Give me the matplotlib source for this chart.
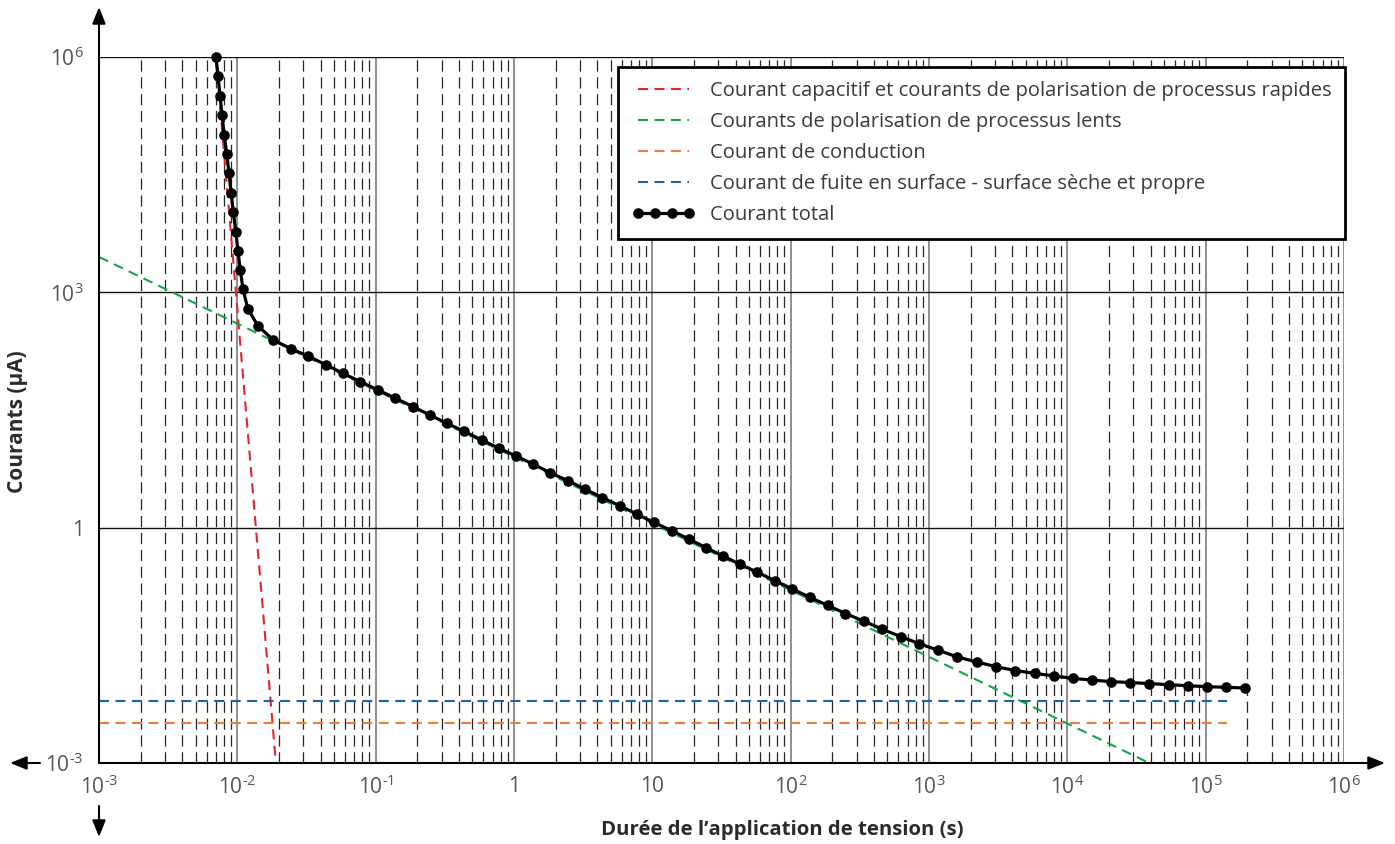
import matplotlib
matplotlib.use("Agg")
import matplotlib.pyplot as plt
from matplotlib.ticker import FixedLocator, NullLocator, LogLocator, FixedFormatter

plt.rcParams['font.family'] = ['Open Sans', 'DejaVu Sans']
plt.rcParams['mathtext.fontset'] = 'custom'
plt.rcParams['mathtext.rm'] = 'Open Sans'
plt.rcParams['mathtext.it'] = 'Open Sans:italic'
plt.rcParams['mathtext.bf'] = 'Open Sans:bold'

# ---------------- data ----------------
x_ticks = [1e-3, 1e-2, 1e-1, 1, 10, 1e2, 1e3, 1e4, 1e5, 1e6]
x_tick_labels = [r'$\mathregular{10^{\text{-}3}}$', r'$\mathregular{10^{\text{-}2}}$',
                 r'$\mathregular{10^{\text{-}1}}$',
                 '1', '10', r'$\mathregular{10^{2}}$', r'$\mathregular{10^{3}}$',
                 r'$\mathregular{10^{4}}$', r'$\mathregular{10^{5}}$', r'$\mathregular{10^{6}}$']
y_ticks = [1e-3, 1, 1e3, 1e6]
y_tick_labels = [r'$\mathregular{10^{\text{-}3}}$', '1', r'$\mathregular{10^{3}}$',
                 r'$\mathregular{10^{6}}$']

labels = ['Courant capacitif et courants de polarisation de processus rapides',
          'Courants de polarisation de processus lents',
          'Courant de conduction',
          'Courant de fuite en surface - surface sèche et propre',
          'Courant total']

capacitive_x = [0.0070, 0.0190]
capacitive_y = [1e6, 1e-3]

slow_x = [1e-3, 39100]
slow_y = [2825, 1e-3]

conduction_x = [1e-3, 1.43e5]
conduction_y = [0.00321, 0.00321]

leakage_x = [1e-3, 1.43e5]
leakage_y = [0.00617, 0.00617]

total_x = [0.00700, 0.00725, 0.00750, 0.00775, 0.00805, 0.00838, 0.00871, 0.00901, 0.00936, 0.00974,
           0.0101, 0.0105, 0.0110, 0.0119, 0.0141, 0.0182, 0.0246, 0.0326, 0.0438, 0.0578,
           0.0775, 0.104, 0.139, 0.186, 0.246, 0.327, 0.436, 0.583, 0.780, 1.03,
           1.37, 1.82, 2.45, 3.27, 4.36, 5.85, 7.73, 10.2, 13.8, 18.5,
           24.4, 32.3, 43.1, 57.5, 76.9, 103, 137, 185, 249, 340,
           461, 626, 849, 1170, 1600, 2210, 3050, 4200, 5790, 7950,
           10900, 15100, 20700, 28500, 39100, 53900, 74000, 102000, 141000, 193000]
total_y = [1.0e6, 5.74e5, 3.19e5, 1.81e5, 1.01e5, 5.76e4, 3.30e4, 1.87e4, 1.05e4, 5.94e3,
           3.40e3, 1.93e3, 1.09e3, 619, 373, 247, 190, 153, 119, 93.0,
           72.6, 56.9, 44.6, 34.9, 27.3, 21.4, 16.9, 13.1, 10.3, 8.20,
           6.49, 5.02, 3.97, 3.09, 2.41, 1.89, 1.49, 1.17, 0.915, 0.711,
           0.556, 0.436, 0.341, 0.270, 0.211, 0.165, 0.130, 0.102, 0.0805, 0.0640,
           0.0506, 0.0408, 0.0332, 0.0273, 0.0225, 0.0194, 0.0169, 0.0151, 0.0139, 0.0129,
           0.0120, 0.0114, 0.0109, 0.0106, 0.0103, 0.00996, 0.00967, 0.00939, 0.00923, 0.00904]

colors = ['#e3242b', '#14a54b', '#f37a3c', '#1c63a8', '#000000']

# ---------------- figure ----------------
W, H = 1395, 844
fig = plt.figure(figsize=(W / 100, H / 100), dpi=100)
L, R, T, B = 99, 1344, 57, 763
ax = fig.add_axes([L / W, 1 - B / H, (R - L) / W, (B - T) / H])
ax.set_xscale('log')
ax.set_yscale('log')
ax.set_xlim(1e-3, 1e6)
ax.set_ylim(1e-3, 1e6)

ax.xaxis.set_major_locator(FixedLocator(x_ticks))
ax.xaxis.set_major_formatter(FixedFormatter(x_tick_labels))
ax.xaxis.set_minor_locator(LogLocator(base=10, subs=range(2, 10), numticks=100))
ax.yaxis.set_major_locator(FixedLocator(y_ticks))
ax.yaxis.set_major_formatter(FixedFormatter(y_tick_labels))
ax.yaxis.set_minor_locator(NullLocator())

ax.tick_params(which='both', length=0)
ax.tick_params(axis='x', which='major', pad=9, labelsize=15, labelcolor='#555555')
ax.tick_params(axis='y', which='major', pad=11, labelsize=15, labelcolor='#555555')
ax.tick_params(axis='x', which='minor', labelbottom=False)

ax.grid(which='major', axis='x', color='#707070', lw=1.1, ls='-', zorder=0)
ax.grid(which='minor', axis='x', color='#262626', lw=0.9, ls=(0, (9, 4.5)), zorder=0)
ax.grid(which='major', axis='y', color='#111111', lw=1.0, ls='-', zorder=0)
ax.set_axisbelow(True)
for s in ax.spines.values():
    s.set_visible(False)

dash = (0, (4.8, 3.1))
ax.plot(capacitive_x, capacitive_y, color=colors[0], lw=1.5, ls=dash, label=labels[0], zorder=2)
ax.plot(slow_x, slow_y, color=colors[1], lw=1.5, ls=dash, label=labels[1], zorder=2)
ax.plot(conduction_x, conduction_y, color=colors[2], lw=1.5, ls=dash, label=labels[2], zorder=2)
ax.plot(leakage_x, leakage_y, color=colors[3], lw=1.5, ls=dash, label=labels[3], zorder=2)
ax.plot(total_x, total_y, color=colors[4], lw=2.3, marker='o', ms=6.6, label=labels[4],
        zorder=3, clip_on=False)

leg = ax.legend(loc='upper right', bbox_to_anchor=(1.0008, 0.9858), borderaxespad=0,
                frameon=True, fancybox=False, edgecolor='black', framealpha=1,
                fontsize=14.5, handlelength=3.1, handletextpad=0.75, labelspacing=0.55,
                borderpad=0.68, numpoints=4)
leg.get_frame().set_linewidth(2.0)
leg.set_zorder(10)
for t in leg.get_texts():
    t.set_color('#3a3a3a')

# axis arrows (figure pixel coordinates)
ap = dict(arrowstyle='-|>,head_length=0.5,head_width=0.2', color='black', lw=1.5,
          shrinkA=0, shrinkB=0, mutation_scale=20)
def arrow(x0, y0, x1, y1):
    ax.annotate('', xy=(x1, H - y1), xytext=(x0, H - y0), xycoords='figure pixels',
                textcoords='figure pixels', arrowprops=ap, annotation_clip=False)
arrow(L, B, 1385, B)
arrow(L, B, L, 7)
arrow(40, B, 10, B)
arrow(L, 806, L, 837)

fig.text(18 / W, 1 - 422 / H, 'Courants (µA)', rotation=90, ha='center', va='center',
         fontweight='bold', fontsize=15, color='#2b2b2b')
fig.text(782 / W, 1 - 830 / H, 'Durée de l’application de tension (s)', ha='center',
         va='center', fontweight='bold', fontsize=14.7, color='#2b2b2b')

fig.savefig('out.png', dpi=100)
